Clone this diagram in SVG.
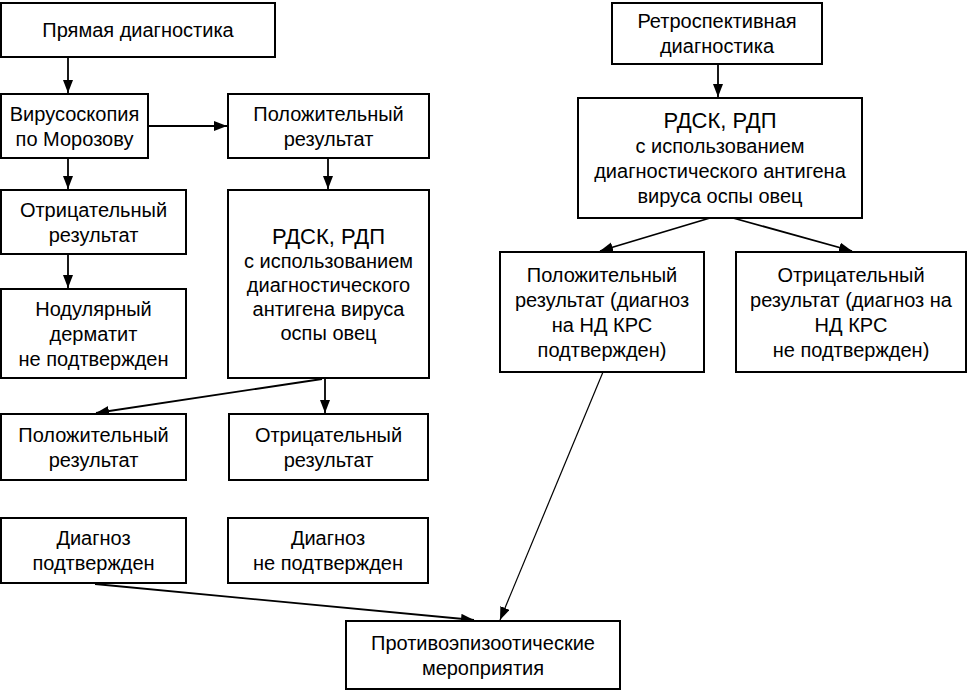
<svg xmlns="http://www.w3.org/2000/svg" width="968" height="691" viewBox="0 0 968 691">
<defs>
<style>
.box{fill:#fff;stroke:#000;stroke-width:2}
.t{font-family:"Liberation Sans",Arial,sans-serif;font-size:20px;fill:#000;text-anchor:middle}
.big{font-size:22px}
.c{stroke:#000;stroke-width:1.8;fill:none;marker-end:url(#ah)}
.thin{stroke-width:1.2}
</style>
<marker id="ah" markerUnits="userSpaceOnUse" markerWidth="14" markerHeight="12" refX="13" refY="5" orient="auto">
<path d="M0,0 L13,5 L0,10 Z" fill="#000"/>
</marker>
</defs>
<rect width="968" height="691" fill="#fff"/>
<g id="connectors">
<line class="c" x1="68" y1="57" x2="68" y2="93"/>
<line class="c" x1="148" y1="126" x2="227" y2="126"/>
<line class="c" x1="328" y1="158" x2="328" y2="189"/>
<line class="c" x1="68" y1="158" x2="68" y2="189"/>
<line class="c" x1="68" y1="254" x2="68" y2="288"/>
<line class="c" x1="322" y1="379" x2="96" y2="413"/>
<line class="c" x1="325" y1="379" x2="325" y2="413"/>
<line class="c" x1="95" y1="584" x2="474" y2="620"/>
<line class="c" x1="718" y1="64" x2="718" y2="97"/>
<line class="c" x1="710" y1="218" x2="600" y2="251"/>
<line class="c" x1="733" y1="218" x2="852" y2="251"/>
<line class="c thin" x1="603" y1="372" x2="500" y2="620"/>
</g>
<g id="n1"><rect class="box" x="1" y="3" width="274" height="54"/><text class="t" x="138" y="37">Прямая диагностика</text></g>
<g id="n2"><rect class="box" x="1" y="94" width="147" height="64"/><text class="t" x="74.5" y="120.5">Вирусоскопия<tspan x="74.5" dy="25">по Морозову</tspan></text></g>
<g id="n3"><rect class="box" x="228" y="94" width="201" height="64"/><text class="t" x="328.5" y="120.5">Положительный<tspan x="328.5" dy="25">результат</tspan></text></g>
<g id="n4"><rect class="box" x="1" y="190" width="185" height="64"/><text class="t" x="93.5" y="216.5">Отрицательный<tspan x="93.5" dy="25">результат</tspan></text></g>
<g id="n5"><rect class="box" x="1" y="289" width="185" height="89"/><text class="t" x="93.5" y="315.5">Нодулярный<tspan x="93.5" dy="25">дерматит</tspan><tspan x="93.5" dy="25">не подтвержден</tspan></text></g>
<g id="n6"><rect class="box" x="228" y="190" width="201" height="188"/><text class="t" x="328.5" y="244"><tspan class="big">РДСК, РДП</tspan><tspan x="328.5" dy="24">с использованием</tspan><tspan x="328.5" dy="24">диагностического</tspan><tspan x="328.5" dy="24">антигена вируса</tspan><tspan x="328.5" dy="24">оспы овец</tspan></text></g>
<g id="n7"><rect class="box" x="1" y="414" width="185" height="66"/><text class="t" x="93.5" y="441.5">Положительный<tspan x="93.5" dy="25">результат</tspan></text></g>
<g id="n8"><rect class="box" x="229" y="414" width="199" height="66"/><text class="t" x="328.5" y="441.5">Отрицательный<tspan x="328.5" dy="25">результат</tspan></text></g>
<g id="n9"><rect class="box" x="1" y="518" width="185" height="65"/><text class="t" x="93.5" y="545">Диагноз<tspan x="93.5" dy="25">подтвержден</tspan></text></g>
<g id="n10"><rect class="box" x="228" y="518" width="200" height="65"/><text class="t" x="328" y="545">Диагноз<tspan x="328" dy="25">не подтвержден</tspan></text></g>
<g id="n11"><rect class="box" x="346" y="621" width="274" height="68"/><text class="t" x="483" y="649.5">Противоэпизоотические<tspan x="483" dy="25">мероприятия</tspan></text></g>
<g id="r1"><rect class="box" x="612" y="3" width="210" height="61"/><text class="t" x="717" y="28">Ретроспективная<tspan x="717" dy="25">диагностика</tspan></text></g>
<g id="r2"><rect class="box" x="578" y="98" width="284" height="120"/><text class="t" x="720" y="128"><tspan class="big">РДСК, РДП</tspan><tspan x="720" dy="25">с использованием</tspan><tspan x="720" dy="25">диагностического антигена</tspan><tspan x="720" dy="25">вируса оспы овец</tspan></text></g>
<g id="r3"><rect class="box" x="500" y="252" width="204" height="120"/><text class="t" x="602" y="281.5">Положительный<tspan x="602" dy="25">результат (диагноз</tspan><tspan x="602" dy="25">на НД КРС</tspan><tspan x="602" dy="25">подтвержден)</tspan></text></g>
<g id="r4"><rect class="box" x="736" y="252" width="230" height="120"/><text class="t" x="851" y="281.5">Отрицательный<tspan x="851" dy="25">результат (диагноз на</tspan><tspan x="851" dy="25">НД КРС</tspan><tspan x="851" dy="25">не подтвержден)</tspan></text></g>
</svg>
